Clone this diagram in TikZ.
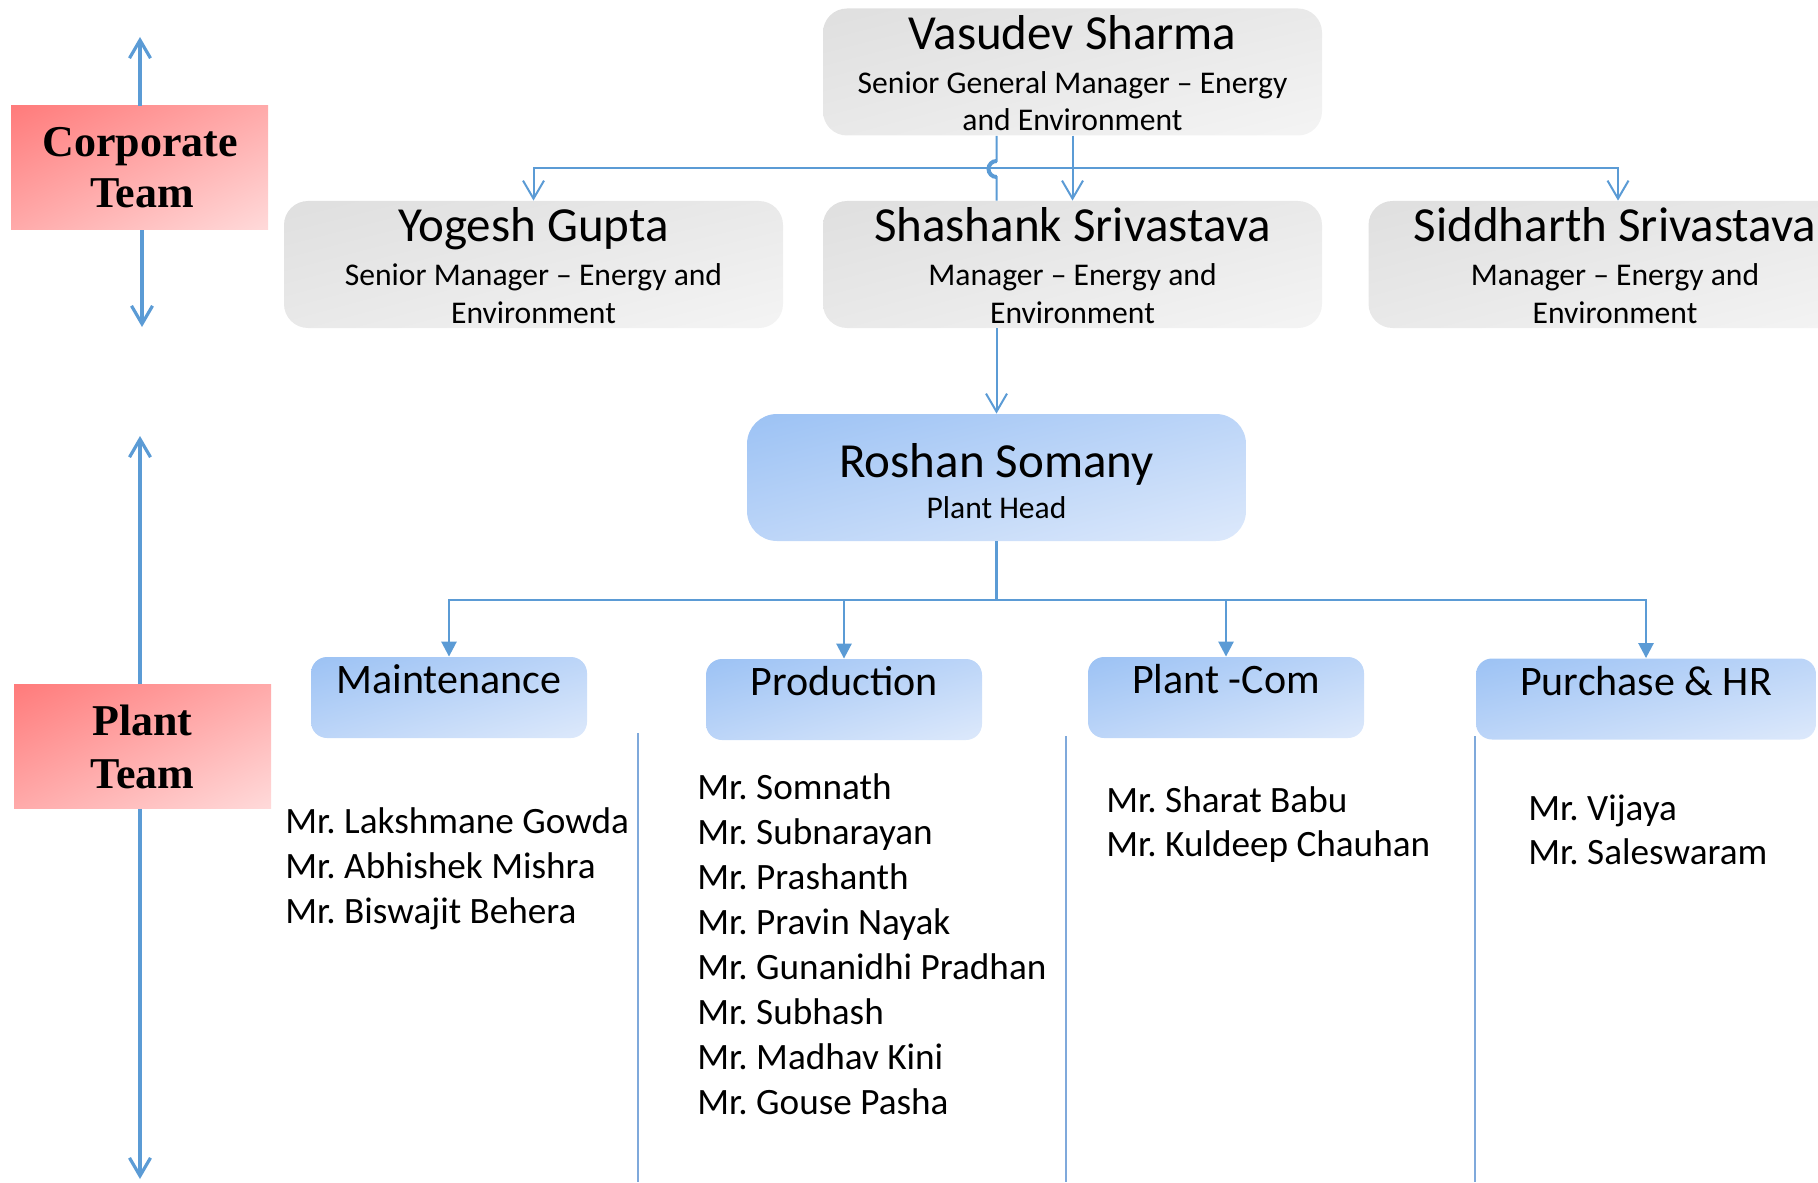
\documentclass[tikz,border=0pt]{standalone}
\usepackage{fontspec}
\setmainfont{Carlito}
\newfontfamily\teamfont{Liberation Serif}
\usetikzlibrary{arrows.meta,shadings}
\frenchspacing

\definecolor{linkblue}{HTML}{5B9BD5}
\definecolor{sepblue}{HTML}{7FA9DB}
\definecolor{grayTL}{HTML}{DFDFDF}
\definecolor{grayMid}{HTML}{E9E9E9}
\definecolor{grayBR}{HTML}{F4F4F4}
\definecolor{blueTL}{HTML}{9CC2F4}
\definecolor{blueMid}{HTML}{BCD5F8}
\definecolor{blueBR}{HTML}{DDE9FB}
\definecolor{redTL}{HTML}{FF7B7B}
\definecolor{redMid}{HTML}{FFAAAA}
\definecolor{redBR}{HTML}{FFDADA}

\tikzset{
  graybox/.style={shade, upper left=grayTL, upper right=grayMid, lower left=grayMid, lower right=grayBR,
    rounded corners=12pt, minimum width=249.5pt, minimum height=63.5pt, inner sep=0pt},
  headbox/.style={shade, upper left=blueTL, upper right=blueMid, lower left=blueMid, lower right=blueBR,
    rounded corners=15pt, minimum width=249.5pt, minimum height=63.5pt, inner sep=0pt},
  deptbox/.style={shade, upper left=blueTL, upper right=blueMid, lower left=blueMid, lower right=blueBR,
    rounded corners=8pt, minimum width=138pt, minimum height=40.5pt, inner sep=0pt},
  teambox/.style={shade, upper left=redTL, upper right=redMid, lower left=redMid, lower right=redBR,
    minimum width=128.5pt, minimum height=62pt, inner sep=0pt},
  nametext/.style={anchor=base, inner sep=0pt, font=\fontsize{24.5}{29}\selectfont},
  roletext/.style={anchor=base, inner sep=0pt, font=\fontsize{15.8}{19}\selectfont},
  depttext/.style={anchor=base, inner sep=0pt, font=\fontsize{21}{25}\selectfont},
  member/.style={anchor=base west, inner sep=0pt, font=\fontsize{18.6}{22}\selectfont},
  teamtext/.style={anchor=base, inner sep=0pt, font=\teamfont\bfseries\fontsize{22}{26}\selectfont},
  teamarrow/.style={linkblue, line width=1.6pt, -{Straight Barb[length=9pt,width=10.5pt]}},
  mgrline/.style={linkblue, line width=1pt},
  mgrarrow/.style={mgrline, -{Straight Barb[length=9pt,width=10.5pt]}},
  deptarrow/.style={linkblue, line width=1.3pt, -{Triangle[length=7.5pt,width=7.5pt]}},
  sepline/.style={sepblue, line width=0.7pt}
}

\begin{document}
\begin{tikzpicture}[x=0.5pt, y=-0.5pt]
    \clip (0,0) rectangle (1818,1182);
    % team labels on the left
    \node[teambox] (ct) at (139.5,168) {};
    \node[teamtext] (ct1) at (140,157) {Corporate};
    \node[teamtext] (ct2) at (142,207) {Team};
    \node[teambox] (pt) at (142.5,746.5) {};
    \node[teamtext] (pt1) at (142.5,735) {Plant};
    \node[teamtext] (pt2) at (142.5,788) {Team};
    \coordinate (cttop) at (140,37);
    \coordinate (ctbot) at (142,327);
    \coordinate (pttop) at (140,436);
    \coordinate (ptbot) at (140,1179);
    \draw[teamarrow] (ct.north -| cttop) -- (cttop);
    \draw[teamarrow] (ct.south -| ctbot) -- (ctbot);
    \draw[teamarrow] (pt.north -| pttop) -- (pttop);
    \draw[teamarrow] (pt.south -| ptbot) -- (ptbot);

    % corporate team
    \node[graybox] (vs) at (1072.5,72) {};
    \node[nametext] (vsname) at (1072.5,50) {Vasudev Sharma};
    \node[roletext] (vsrole1) at (1072.5,94) {Senior General Manager -- Energy};
    \node[roletext] (vsrole2) at (1072.5,131) {and Environment};

    \node[graybox] (yg) at (533.5,264.5) {};
    \node[nametext] (ygname) at (533.5,242) {Yogesh Gupta};
    \node[roletext] (ygrole1) at (533.5,285) {Senior Manager -- Energy and};
    \node[roletext] (ygrole2) at (533.5,323) {Environment};

    \node[graybox] (ss) at (1072.5,264.5) {};
    \node[nametext] (ssname) at (1072.5,242) {Shashank Srivastava};
    \node[roletext] (ssrole1) at (1072.5,285) {Manager -- Energy and};
    \node[roletext] (ssrole2) at (1072.5,323) {Environment};

    \node[graybox] (sd) at (1618,264.5) {};
    \node[nametext] (sdname) at (1615,242) {Siddharth Srivastava};
    \node[roletext] (sdrole1) at (1615,285) {Manager -- Energy and};
    \node[roletext] (sdrole2) at (1615,323) {Environment};

    \coordinate (corpbus) at (1072.5,168);
    \foreach \m in {yg,ss,sd}
        \draw[mgrarrow] (vs.south) -- (corpbus) -| (\m.north);

    % plant head
    \node[headbox] (rs) at (996.5,477.5) {};
    \node[nametext] (rsname) at (996.5,477) {Roshan Somany};
    \node[roletext] (rsrole) at (996.5,518) {Plant Head};

    \draw[mgrline] (vs.south -| rs.north) -- (996.5,161)
        arc[start angle=270, end angle=90, radius=8] -- (ss.north -| rs.north);
    \draw[mgrline, line width=2pt] (996.5,161) arc[start angle=270, end angle=90, radius=8];
    \draw[mgrarrow] (ss.south -| rs.north) -- (rs.north);

    % departments
    \node[deptbox] (mt) at (449,697.5) {};
    \node[depttext] (mtname) at (449,693) {Maintenance};
    \node[deptbox] (pr) at (844,699.5) {};
    \node[depttext] (prname) at (844,695) {Production};
    \node[deptbox] (pc) at (1226,697.5) {};
    \node[depttext] (pcname) at (1226,693) {Plant -Com};
    \node[deptbox, minimum width=170pt] (ph) at (1646,699) {};
    \node[depttext] (phname) at (1646,695) {Purchase \& HR};

    \coordinate (plantbus) at (996.5,600);
    \foreach \d in {mt,pr,pc,ph}
        \draw[deptarrow] (rs.south) -- (plantbus) -| (\d.north);

    % column separators
    \draw[sepline] (638,733) -- (638,1182);
    \draw[sepline] (1066,736) -- (1066,1182);
    \draw[sepline] (1475,736) -- (1475,1182);

    % members
    \foreach \n [count=\i from 0] in {Mr. Lakshmane Gowda, Mr. Abhishek Mishra, Mr. Biswajit Behera}
        \node[member] (mt\i) at (285,{833+45*\i}) {\n};
    \foreach \n [count=\i from 0] in {Mr. Somnath, Mr. Subnarayan, Mr. Prashanth, Mr. Pravin Nayak,
        Mr. Gunanidhi Pradhan, Mr. Subhash, Mr. Madhav Kini, Mr. Gouse Pasha}
        \node[member] (pr\i) at (697,{799+45*\i}) {\n};
    \foreach \n [count=\i from 0] in {Mr. Sharat Babu, Mr. Kuldeep Chauhan}
        \node[member] (pc\i) at (1106,{812+44*\i}) {\n};
    \foreach \n [count=\i from 0] in {Mr. Vijaya, Mr. Saleswaram}
        \node[member] (ph\i) at (1528,{820+44*\i}) {\n};
\end{tikzpicture}
\end{document}
